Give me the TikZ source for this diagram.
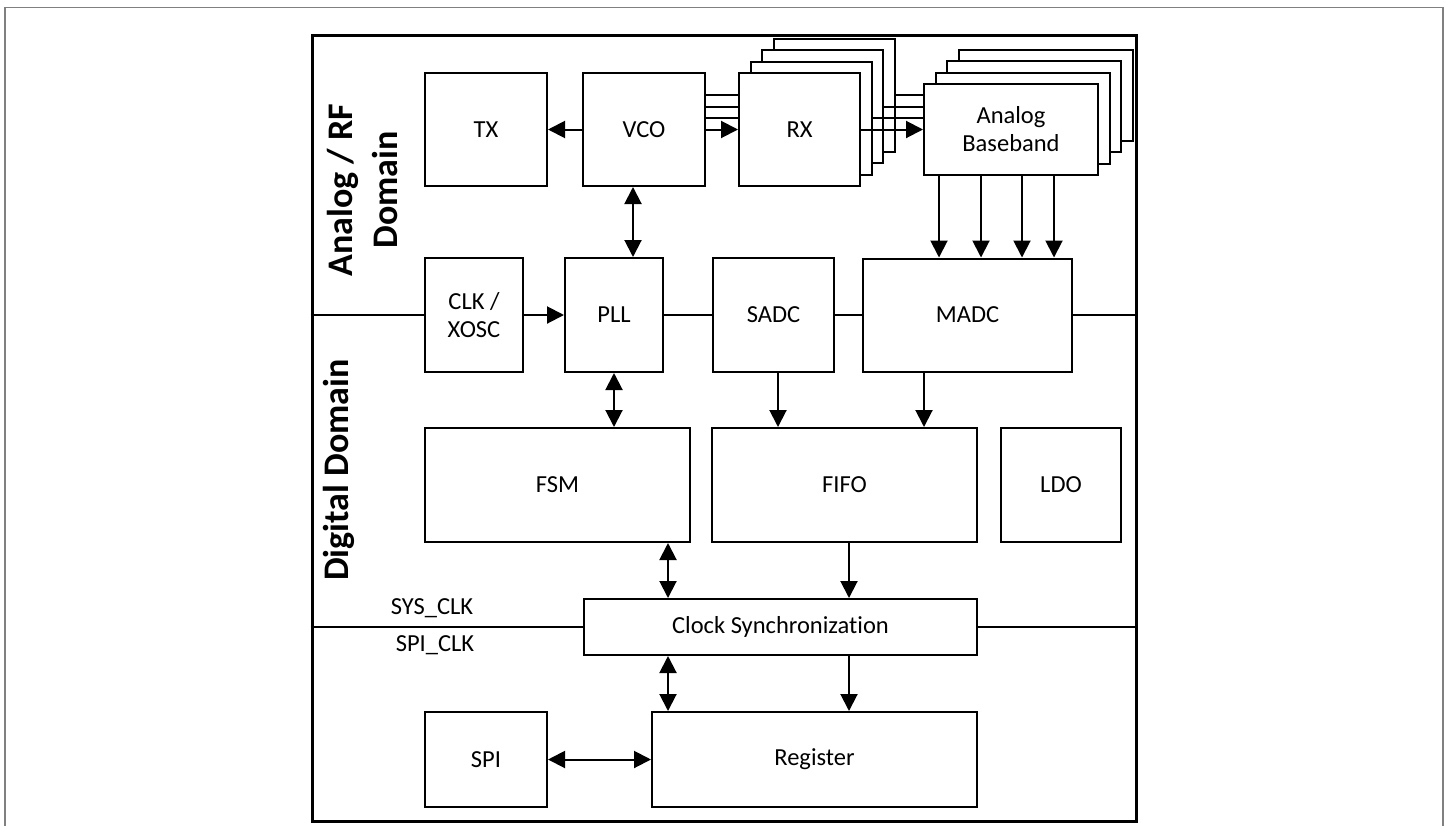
\documentclass[tikz,border=0pt]{standalone}
\usepackage{fontspec}
\setmainfont{Carlito}[Ligatures=NoCommon]
\usepackage{tikz}
\usetikzlibrary{arrows.meta}

\begin{document}
\begin{tikzpicture}[x=1pt,y=1pt,yscale=-1,xscale=1,
    blk/.style={draw, line width=2pt, fill=white, align=center, inner sep=0pt, font=\fontsize{24.5}{28}\selectfont},
    wire/.style={line width=2pt},
    arr/.style={line width=2pt, -{Triangle[length=17pt,width=17pt]}},
    darr/.style={line width=2pt, {Triangle[length=17pt,width=17pt]}-{Triangle[length=17pt,width=17pt]}},
    lbl/.style={font=\fontsize{24.5}{28}\selectfont, inner sep=0pt},
    dom/.style={font=\fontsize{36}{45}\selectfont\bfseries, rotate=90, align=center, inner sep=0pt}]
    \useasboundingbox (0,0) rectangle (1448,825);
    \draw [color={rgb, 255:red, 128; green, 128; blue, 128 }, line width=1.5pt] (5,826) -- (5,7.5) -- (1443,7.5) -- (1443,826);
    \node [draw, line width=3pt, inner sep=0pt, minimum width=824pt, minimum height=786pt] (chip) at (724,428) {};

    \node [blk, minimum width=122pt, minimum height=113pt] (tx) at (486,129.5) {TX};
    \node [blk, minimum width=122pt, minimum height=113pt] (vco) at (644,129.5) {VCO};
    \foreach \k in {3,2,1}
        \node [blk, minimum width=121pt, minimum height=113pt] (rx\k) at ({799.5+11.5*\k},{129.5-11.5*\k}) {};
    \node [blk, minimum width=121pt, minimum height=113pt] (rx0) at (799.5,129.5) {RX};
    \foreach \k in {3,2,1}
        \node [blk, minimum width=174pt, minimum height=91pt] (ab\k) at ({1011+11.5*\k},{129.5-11.5*\k}) {};
    \node [blk, minimum width=174pt, minimum height=91pt] (ab0) at (1011,129.5) {Analog\\Baseband};

    \node [blk, minimum width=98pt, minimum height=114pt] (clk) at (474,315) {CLK /\\XOSC};
    \node [blk, minimum width=98pt, minimum height=114pt] (pll) at (614,315) {PLL};
    \node [blk, minimum width=121pt, minimum height=114pt] (sadc) at (773.5,315) {SADC};
    \node [blk, minimum width=209pt, minimum height=113pt] (madc) at (967.5,315) {MADC};

    \node [blk, minimum width=265pt, minimum height=114pt] (fsm) at (557.5,485) {FSM};
    \node [blk, minimum width=265pt, minimum height=114pt] (fifo) at (844.5,485) {FIFO};
    \node [blk, minimum width=120pt, minimum height=114pt] (ldo) at (1061,485) {LDO};

    \node [blk, minimum width=393pt, minimum height=56pt] (sync) at (780.5,627) {Clock Synchronization};
    \node [blk, minimum width=122pt, minimum height=95pt] (spi) at (486,759.5) {SPI};
    \node [blk, minimum width=325pt, minimum height=95pt] (reg) at (814.5,759.5) {Register};

    \node [dom] (ttlrf) at (362,190) {Analog / RF\\Domain};
    \node [dom] (ttldig) at (339,470) {Digital Domain};
    \node [lbl] (sysclk) at (432,608) {SYS\_CLK};
    \node [lbl] (spiclk) at (435,645) {SPI\_CLK};

    \draw [arr] (vco) -- (tx);
    \foreach \k in {1,2,3}
        \draw [wire] (vco.east |- rx\k.east) -- (rx0.west |- rx\k.east);
    \draw [arr] (vco) -- (rx0);
    \foreach \k in {1,2,3}
        \draw [wire] (rx\k.east) -- (ab0.west |- rx\k.east);
    \draw [arr] (rx0) -- (ab0);
    \foreach \x [count=\i] in {939,981,1022,1054} {
        \coordinate (xab\i) at (\x,0);
        \draw [arr] (ab0.south -| xab\i) -- (madc.north -| xab\i);
    }

    \draw [wire] (chip.west |- clk.west) -- (clk.west);
    \draw [arr] (clk) -- (pll);
    \draw [wire] (pll) -- (sadc);
    \draw [wire] (sadc) -- (madc);
    \draw [wire] (madc.east) -- (chip.east |- madc.east);

    \coordinate (xvp) at (633,0);
    \coordinate (xsf) at (778,0);
    \coordinate (xmf) at (924,0);
    \coordinate (xfs) at (668,0);
    \coordinate (xff) at (849,0);
    \draw [darr] (vco.south -| xvp) -- (pll.north -| xvp);
    \draw [darr] (pll.south) -- (fsm.north -| pll.south);
    \draw [arr] (sadc.south -| xsf) -- (fifo.north -| xsf);
    \draw [arr] (madc.south -| xmf) -- (fifo.north -| xmf);
    \draw [darr] (fsm.south -| xfs) -- (sync.north -| xfs);
    \draw [arr] (fifo.south -| xff) -- (sync.north -| xff);
    \draw [darr] (sync.south -| xfs) -- (reg.north -| xfs);
    \draw [arr] (sync.south -| xff) -- (reg.north -| xff);
    \draw [darr] (spi) -- (reg);

    \draw [wire] (chip.west |- sync.west) -- (sync.west);
    \draw [wire] (sync.east) -- (chip.east |- sync.east);
\end{tikzpicture}
\end{document}
